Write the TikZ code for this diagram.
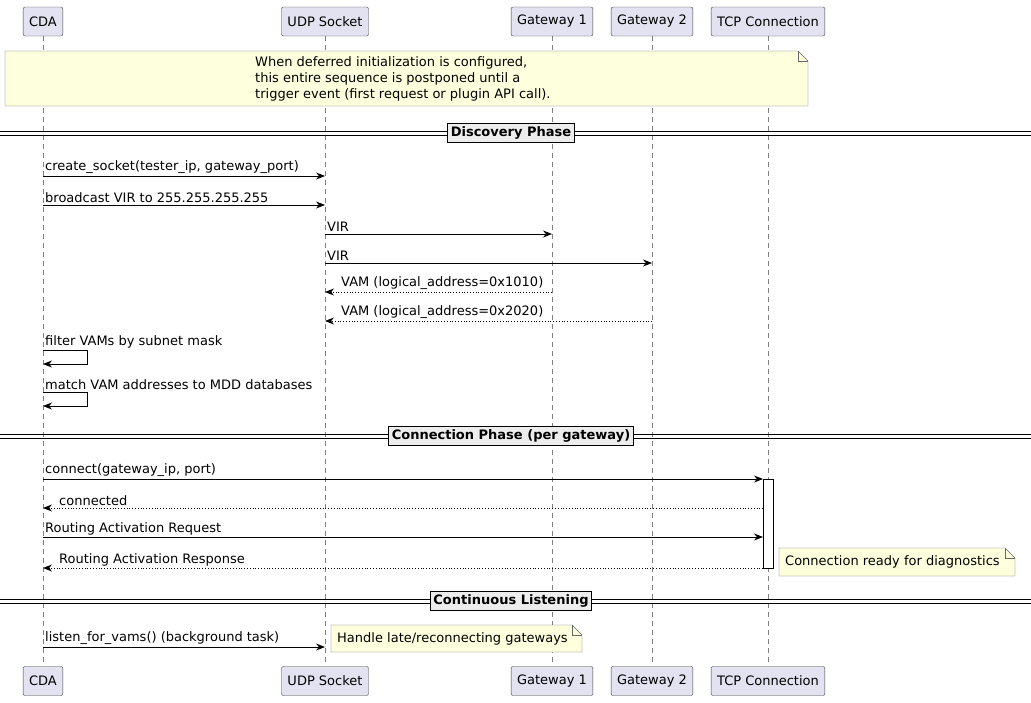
\documentclass[tikz,border=0pt]{standalone}
\usepackage{fontspec}
\setmainfont{DejaVu Sans}
\usetikzlibrary{arrows.meta}
\definecolor{part}{HTML}{E2E2F0}
\definecolor{notec}{HTML}{FEFFDD}
\begin{document}
\begin{tikzpicture}[x=1pt,y=-1pt,
  every node/.style={font=\fontsize{13}{16}\selectfont},
  head/.style={draw=black!75,fill=part,rounded corners=2pt,minimum height=29,inner xsep=6},
  life/.style={gray,dashed,dash pattern=on 5pt off 4pt},
  msg/.style={thick,-{Stealth[length=9pt,width=7pt]}},
  ret/.style={thick,dotted,-{Stealth[length=9pt,width=7pt]}},
  lbl/.style={anchor=south west,inner sep=2pt},
  divbox/.style={draw,thick,fill=black!7,font=\bfseries\fontsize{13}{16}\selectfont,inner sep=3pt},
  notebox/.style={draw=black!60,fill=notec}]
\useasboundingbox (0,0) rectangle (1031,702);
\fill[white] (0,0) rectangle (1031,702);
\coordinate (cda) at (43,0);
\coordinate (udp) at (325,0);
\coordinate (gw1) at (552,0);
\coordinate (gw2) at (652,0);
\coordinate (tcp) at (768,0);
\foreach \c in {cda,udp,gw1,gw2,tcp} \draw[life] (\c |- 0,36) -- (\c |- 0,666);
\foreach \c/\t in {cda/CDA,udp/UDP Socket,gw1/Gateway 1,gw2/Gateway 2,tcp/TCP Connection}{
  \node[head] (\c top) at (\c |- 0,21.5) {\t};
  \node[head] (\c bot) at (\c |- 0,681) {\t};}
% top note
\draw[notebox] (5,51) -- (798,51) -- (808,61) -- (808,106) -- (5,106) -- cycle;
\draw[black!60] (798,51) -- (798,61) -- (808,61);
\node[anchor=north west,align=left,inner sep=0] (n1) at (255,56) {When deferred initialization is configured,\\this entire sequence is postponed until a\\trigger event (first request or plugin API call).};
% dividers
\foreach \y/\t/\n in {133/Discovery Phase/d1,436/Connection Phase (per gateway)/d2,601/Continuous Listening/d3}{
  \draw[thick] (0,\y-2) -- (1031,\y-2); \draw[thick] (0,\y+2) -- (1031,\y+2);
  \node[divbox] (\n) at (511,\y) {\t};}
% messages
\draw[msg] (cda |- 0,176) -- node[lbl,pos=0,at start]{} (udp |- 0,176);
\node[lbl] (m1) at (cda |- 0,176) {create\_socket(tester\_ip, gateway\_port)};
\draw[msg] (cda |- 0,205) -- (udp |- 0,205);
\node[lbl] (m2) at (cda |- 0,205) {broadcast VIR to 255.255.255.255};
\draw[msg] (udp |- 0,234) -- (gw1 |- 0,234);
\node[lbl] (m3) at (udp |- 0,234) {VIR};
\draw[msg] (udp |- 0,263) -- (gw2 |- 0,263);
\node[lbl] (m4) at (udp |- 0,263) {VIR};
\draw[ret] (gw1 |- 0,292) -- (udp |- 0,292);
\node[lbl] (m5) at ([xshift=14]udp |- 0,292) {VAM (logical\_address=0x1010)};
\draw[ret] (gw2 |- 0,321) -- (udp |- 0,321);
\node[lbl] (m6) at ([xshift=14]udp |- 0,321) {VAM (logical\_address=0x2020)};
\draw[msg] (cda |- 0,350) -- (87,350) -- (87,364) -- (cda |- 0,364);
\node[lbl] (m7) at (cda |- 0,350) {filter VAMs by subnet mask};
\draw[msg] (cda |- 0,392) -- (87,392) -- (87,406) -- (cda |- 0,406);
\node[lbl] (m8) at (cda |- 0,392) {match VAM addresses to MDD databases};
% activation
\draw[fill=white] (763,479) rectangle (773,568);
\draw[msg] (cda |- 0,479) -- (763,479);
\node[lbl] (m9) at (cda |- 0,479) {connect(gateway\_ip, port)};
\draw[ret] (763,508) -- (cda |- 0,508);
\node[lbl] (m10) at ([xshift=14]cda |- 0,508) {connected};
\draw[msg] (cda |- 0,537) -- (763,537);
\node[lbl] (m11) at (cda |- 0,537) {Routing Activation Request};
\draw[ret] (763,568) -- (cda |- 0,568);
\node[lbl] (m12) at ([xshift=14]cda |- 0,568) {Routing Activation Response};
\draw[notebox] (779,548) -- (1005,548) -- (1015,558) -- (1015,576) -- (779,576) -- cycle;
\draw[black!60] (1005,548) -- (1005,558) -- (1015,558);
\node[anchor=west,inner sep=0] (n2) at (785,562) {Connection ready for diagnostics};
\draw[msg] (cda |- 0,647) -- (udp |- 0,647);
\node[lbl] (m13) at (cda |- 0,647) {listen\_for\_vams() (background task)};
\draw[notebox] (331,625) -- (572,625) -- (582,635) -- (582,652) -- (331,652) -- cycle;
\draw[black!60] (572,625) -- (572,635) -- (582,635);
\node[anchor=west,inner sep=0] (n3) at (337,638.5) {Handle late/reconnecting gateways};
\end{tikzpicture}
\end{document}
